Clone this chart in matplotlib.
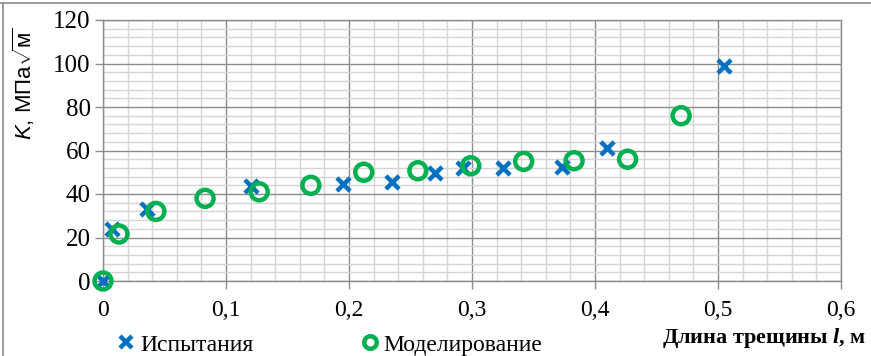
import numpy as np
import matplotlib.pyplot as plt
from matplotlib.lines import Line2D
from matplotlib.ticker import MultipleLocator

plt.rcParams['font.family'] = ['Liberation Serif', 'DejaVu Serif']
plt.rcParams['mathtext.fontset'] = 'custom'
plt.rcParams['mathtext.rm'] = 'Liberation Sans'
plt.rcParams['mathtext.it'] = 'Liberation Sans:italic'
plt.rcParams['mathtext.bfit'] = 'Liberation Serif:italic:bold'

# Испытания
l_test = [0.0, 0.007, 0.036, 0.120, 0.195, 0.235, 0.270, 0.293, 0.325, 0.373, 0.410, 0.505]
k_test = [0.0, 24.0, 33.0, 43.7, 44.5, 45.5, 49.5, 52.0, 52.0, 52.6, 61.2, 99.0]

# Моделирование
l_model = [0.0, 0.013, 0.043, 0.083, 0.127, 0.169, 0.212, 0.256, 0.299, 0.342, 0.383, 0.4265, 0.470]
k_model = [0.0, 21.6, 32.0, 38.0, 41.0, 44.0, 50.0, 50.7, 53.0, 55.0, 55.3, 56.0, 76.0]

x_ticks = [0, 0.1, 0.2, 0.3, 0.4, 0.5, 0.6]
x_labels = ['0', '0,1', '0,2', '0,3', '0,4', '0,5', '0,6']
y_ticks = [0, 20, 40, 60, 80, 100, 120]

blue = '#0070C0'
green = '#00B050'

fig = plt.figure(figsize=(8.71, 3.56), dpi=100)
ax = fig.add_axes([103 / 871, 75 / 356, 738 / 871, 261 / 356])

ax.scatter(l_test, k_test, marker='x', s=90, color=blue, linewidths=3.2, zorder=3, clip_on=False)
ax.scatter(l_model, k_model, marker='o', s=150, facecolors='none', edgecolors=green,
           linewidths=3.2, zorder=4, clip_on=False)

ax.set_xlim(0, 0.6)
ax.set_ylim(0, 120)
ax.set_xticks(x_ticks)
ax.set_xticklabels(x_labels)
ax.set_yticks(y_ticks)
ax.xaxis.set_minor_locator(MultipleLocator(0.02))
ax.yaxis.set_minor_locator(MultipleLocator(4))
ax.grid(which='major', color='#8c8c8c', linewidth=1.0)
ax.grid(which='minor', color='#d4d4d4', linewidth=1.0)
ax.set_axisbelow(True)
ax.tick_params(which='major', direction='out', length=6, width=1, color='#8c8c8c',
               labelsize=18)
ax.tick_params(which='minor', length=0)
ax.tick_params(axis='x', pad=8, labelsize=17)
ax.tick_params(axis='y', pad=3)
for side in ['left', 'bottom', 'right', 'top']:
    ax.spines[side].set_color('#8c8c8c')
    ax.spines[side].set_linewidth(1.0)

ax.set_ylabel(r'$\mathit{K}$, МПа$\sqrt{\mathrm{м}}$', family=['Liberation Sans'],
              fontsize=16)
ax.yaxis.set_label_coords(-0.089, 0.755)

fig.text(866 / 871, 1 - 338 / 356, r'Длина трещины $\mathbfit{l}$, м', ha='right', va='center',
         fontsize=16, fontweight='bold')

handles = [
    Line2D([], [], marker='x', linestyle='none', color=blue, markersize=9, markeredgewidth=3.2),
    Line2D([], [], marker='o', linestyle='none', markerfacecolor='none', markeredgecolor=green,
           markersize=9, markeredgewidth=3.2),
]
fig.legend(handles, ['Испытания', 'Моделирование'], loc='center left',
           bbox_to_anchor=(117 / 871, 1 - 345 / 356), ncol=2, frameon=False, fontsize=17,
           handlelength=0.8, handletextpad=0.2, columnspacing=4.5, borderaxespad=0,
           borderpad=0)

# рамка области диаграммы
fig.add_artist(Line2D([0, 1], [1 - 2.5 / 356, 1 - 2.5 / 356], transform=fig.transFigure,
                      color='#8c8c8c', linewidth=1.2))
fig.add_artist(Line2D([3 / 871, 3 / 871], [0, 1 - 2.5 / 356], transform=fig.transFigure,
                      color='#8c8c8c', linewidth=1.2))

fig.savefig('out.png', dpi=100)
